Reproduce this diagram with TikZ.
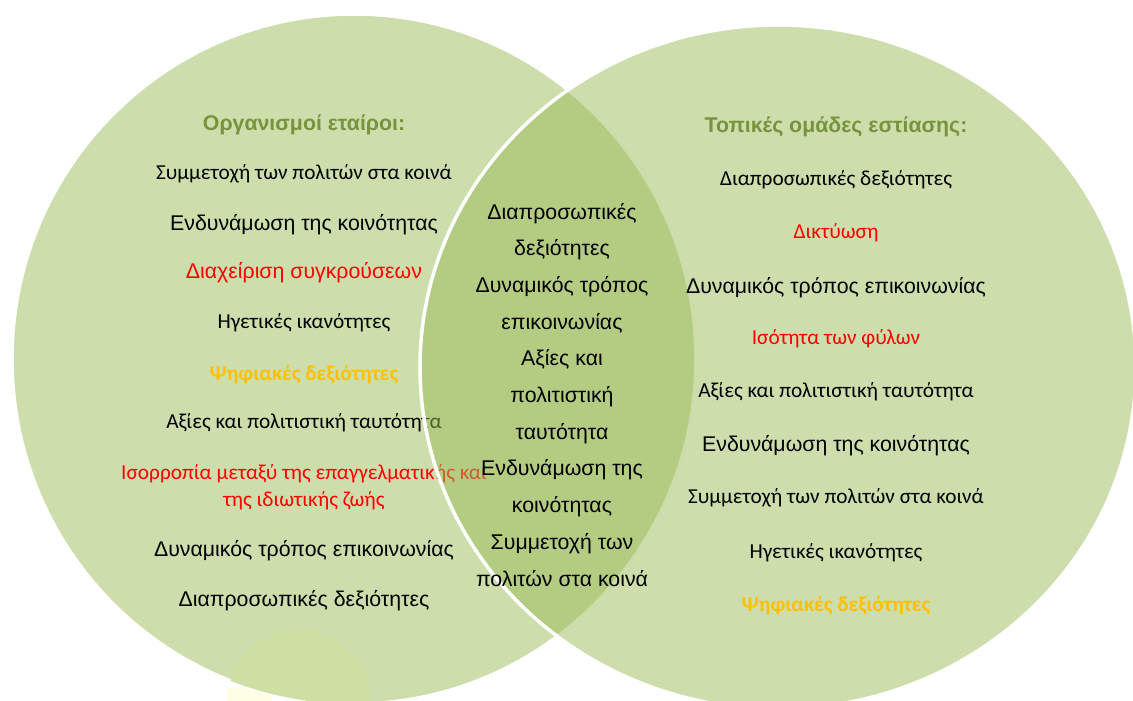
\documentclass[tikz,border=0pt]{standalone}
\usepackage{fontspec}
\setmainfont{Liberation Sans}
\newfontfamily\calfont{Carlito}
\definecolor{olivefill}{HTML}{9BBB59}
\definecolor{titlegreen}{HTML}{77933C}
\definecolor{digiorange}{HTML}{FFC000}
\definecolor{faintgreen}{RGB}{207,222,162}
\definecolor{paleyellow}{RGB}{254,254,230}
\tikzset{
	venn/.style={fill=olivefill,fill opacity=0.5,draw=white,line width=3.5pt},
	head/.style={font=\fontsize{21.3}{25}\selectfont\bfseries,text=titlegreen,anchor=base},
	txt/.style={font=\fontsize{21.3}{25}\selectfont,anchor=base,align=center},
	ctxt/.style={font=\calfont\fontsize{21.3}{27}\selectfont,anchor=base,align=center},
	digi/.style={font=\calfont\bfseries\fontsize{21.3}{27}\selectfont,text=digiorange,anchor=base},
	common/.style={font=\fontsize{21.3}{36.7}\selectfont,anchor=base,align=center}
}
\begin{document}
\begin{tikzpicture}[x=1pt,y=-1pt]
			\useasboundingbox (0,0) rectangle (1133,701);
			\clip (0,0) rectangle (1133,701);
			\fill[paleyellow] (227,688) rectangle (272,701);
			% left set
			\draw[venn] (354,359) ellipse [x radius=342pt,y radius=345pt];
			\begin{scope}
				\clip (354,359) ellipse [x radius=342pt,y radius=345pt];
				\fill[faintgreen] (299,700) circle [radius=71pt];
			\end{scope}
			\node[head] (orgs) at (304,130) {Οργανισμοί εταίροι:};
			\node[ctxt] (l1) at (304,179) {Συμμετοχή των πολιτών στα κοινά};
			\node[txt] (l2) at (304,230) {Ενδυνάμωση της κοινότητας};
			\node[txt,red] (l3) at (304,278) {Διαχείριση συγκρούσεων};
			\node[ctxt] (l4) at (304,328) {Ηγετικές ικανότητες};
			\node[digi] (l5) at (304,380) {Ψηφιακές δεξιότητες};
			\node[ctxt] (l6) at (304,428) {Αξίες και πολιτιστική ταυτότητα};
			% base of a two-line node is its last line
			\node[ctxt,red] (l7) at (304,506) {Ισορροπία μεταξύ της επαγγελματικής και\\της ιδιωτικής ζωής};
			\node[txt] (l8) at (304,556) {Δυναμικός τρόπος επικοινωνίας};
			\node[txt] (l9) at (304,606) {Διαπροσωπικές δεξιότητες};
			% right set
			\draw[venn] (778,367) ellipse [x radius=358pt,y radius=342pt];
			\node[head] (focus) at (836,132) {Τοπικές ομάδες εστίασης:};
			\node[ctxt] (r1) at (836,185) {Διαπροσωπικές δεξιότητες};
			\node[ctxt,red] (r2) at (836,238) {Δικτύωση};
			\node[txt] (r3) at (836,293) {Δυναμικός τρόπος επικοινωνίας};
			\node[ctxt,red] (r4) at (836,344) {Ισότητα των φύλων};
			\node[ctxt] (r5) at (836,397) {Αξίες και πολιτιστική ταυτότητα};
			\node[txt] (r6) at (836,451) {Ενδυνάμωση της κοινότητας};
			\node[ctxt] (r7) at (836,503) {Συμμετοχή των πολιτών στα κοινά};
			\node[ctxt] (r8) at (836,558) {Ηγετικές ικανότητες};
			\node[digi] (r9) at (836,611) {Ψηφιακές δεξιότητες};
			% overlap
			\node[common] (both) at (562,586) {Διαπροσωπικές\\δεξιότητες\\Δυναμικός τρόπος\\επικοινωνίας\\Αξίες και\\πολιτιστική\\ταυτότητα\\Ενδυνάμωση της\\κοινότητας\\Συμμετοχή των\\πολιτών στα κοινά};
		\end{tikzpicture}
\end{document}
